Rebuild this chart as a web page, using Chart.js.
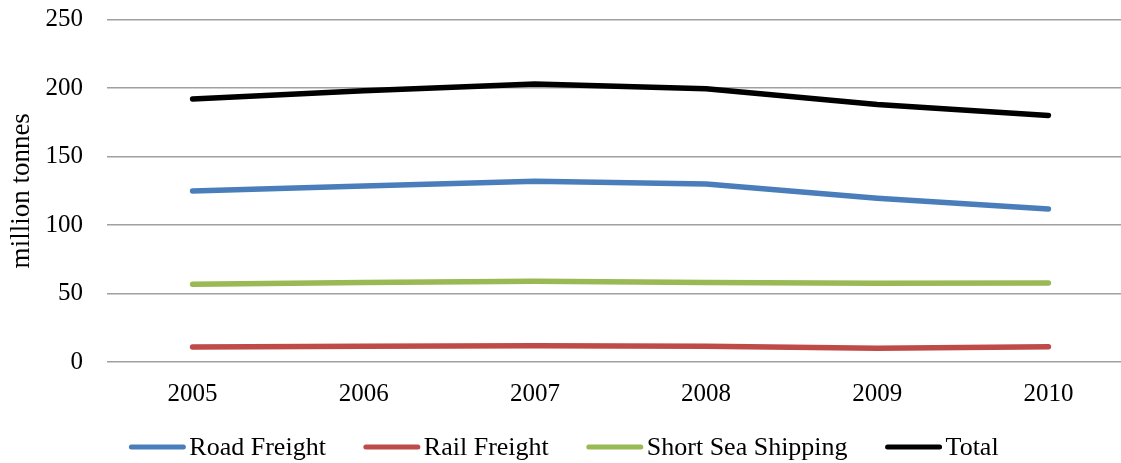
<!DOCTYPE html>
<html>
<head>
<meta charset="utf-8">
<script src="https://cdn.jsdelivr.net/npm/chart.js@4.4.1/dist/chart.umd.min.js"></script>
<style>
  html, body { margin: 0; padding: 0; background: #fff; overflow: hidden; }
  #wrap { position: relative; width: 1134px; height: 463px; }
</style>
</head>
<body>
<div id="wrap"><canvas id="chart"></canvas></div>
<script>
// Freight volumes, million tonnes
const years = ['2005', '2006', '2007', '2008', '2009', '2010'];
const roadFreight = [124.8, 128.5, 132.0, 130.0, 119.6, 111.6];
const railFreight = [11.0, 11.5, 11.8, 11.5, 10.0, 11.2];
const shortSeaShipping = [56.8, 58.0, 59.0, 58.0, 57.5, 57.7];
const total = [192.0, 198.0, 203.0, 199.5, 188.0, 180.0];
const yTicks = [0, 50, 100, 150, 200, 250];

const serif = '"Liberation Serif", "Times New Roman", serif';

function series(label, data, color) {
  return {
    label, data,
    borderColor: color, backgroundColor: color,
    borderWidth: 5.5, pointRadius: 0, pointHoverRadius: 0,
    tension: 0, borderCapStyle: 'round', borderJoinStyle: 'round', fill: false
  };
}

// Legend drawn below the axis: a short line sample followed by the label
const lineLegend = {
  id: 'lineLegend',
  afterDraw(chart) {
    const ctx = chart.ctx;
    const sample = 56, gapText = 4, gapItem = 38, y = 447;
    ctx.save();
    ctx.font = '26px ' + serif;
    ctx.textBaseline = 'middle';
    const items = chart.data.datasets.map(ds => ({
      ds, w: sample + gapText + ctx.measureText(ds.label).width
    }));
    const totalW = items.reduce((s, it) => s + it.w, 0) + gapItem * (items.length - 1);
    let x = (chart.width - totalW) / 2 - 3;
    items.forEach(it => {
      ctx.strokeStyle = it.ds.borderColor;
      ctx.lineWidth = 5;
      ctx.lineCap = 'round';
      ctx.beginPath();
      ctx.moveTo(x + 2, y);
      ctx.lineTo(x + sample - 2, y);
      ctx.stroke();
      ctx.fillStyle = '#000';
      ctx.textAlign = 'left';
      ctx.fillText(it.ds.label, x + sample + gapText, y + 1);
      x += it.w + gapItem;
    });
    ctx.restore();
  }
};

new Chart(document.getElementById('chart'), {
  type: 'line',
  data: {
    labels: years,
    datasets: [
      series('Road Freight', roadFreight, '#4A7EBB'),
      series('Rail Freight', railFreight, '#BE4B48'),
      series('Short Sea Shipping', shortSeaShipping, '#98B954'),
      series('Total', total, '#000000')
    ]
  },
  options: {
    responsive: true,
    maintainAspectRatio: false,
    animation: false,
    events: [],
    layout: { padding: { top: 19.5, left: 0, right: 0, bottom: 55 } },
    plugins: { legend: { display: false }, tooltip: { enabled: false } },
    scales: {
      x: {
        offset: true,
        grid: { display: false, drawTicks: false },
        border: { display: false },
        ticks: { color: '#000', font: { family: serif, size: 25 }, padding: 17, maxRotation: 0 },
        afterFit(axis) { axis.height = 46; }
      },
      y: {
        min: 0, max: 250,
        afterBuildTicks(axis) { axis.ticks = yTicks.map(v => ({ value: v })); },
        grid: { color: '#a0a0a0', lineWidth: 1.5, drawTicks: false },
        border: { display: false },
        ticks: { color: '#000', font: { family: serif, size: 25 }, padding: 24 },
        title: {
          display: true, text: 'million tonnes', color: '#000',
          font: { family: serif, size: 27 }, padding: { top: 6, bottom: 0 }
        },
        afterFit(axis) {
          axis.width = 107;
          axis.paddingTop = 0;
          axis.paddingBottom = 0;
        }
      }
    }
  },
  plugins: [lineLegend]
});
</script>
</body>
</html>
